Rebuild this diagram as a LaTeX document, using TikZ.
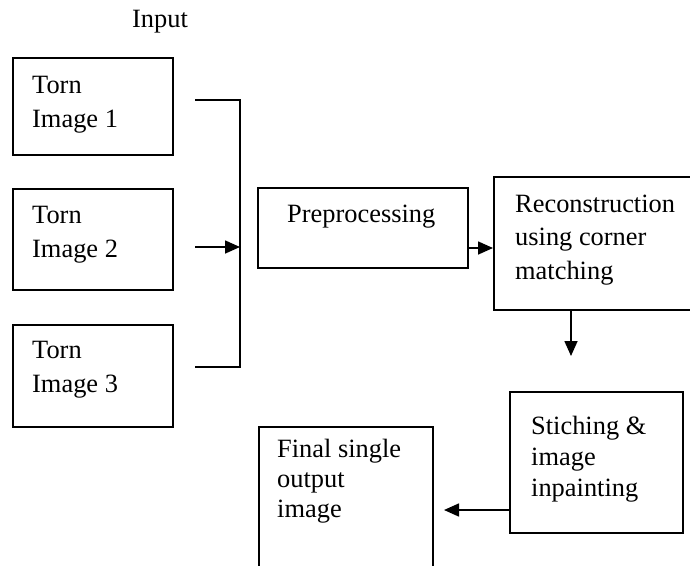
\documentclass[tikz,border=0pt]{standalone}
\usepackage{fontspec}
\setmainfont{Liberation Serif}
\usetikzlibrary{arrows.meta}
\tikzset{
  box/.style={draw=black, line width=1.6pt, rectangle, inner sep=0pt, anchor=north west},
  lbl/.style={anchor=base west, inner sep=0pt, align=left, font=\fontsize{26.4}{34}\selectfont},
  conn/.style={draw=black, line width=1.6pt},
  arr/.style={conn, -{Triangle[length=15pt,width=13pt]}}
}
\begin{document}
\begin{tikzpicture}[x=1pt,y=-1pt]
\useasboundingbox (0,0) rectangle (690,565);
% boxes
\node[box, minimum width=160pt, minimum height=97pt] (b1) at (12,57) {};
\node[box, minimum width=160pt, minimum height=101pt] (b2) at (12,188) {};
\node[box, minimum width=160pt, minimum height=102pt] (b3) at (12,324) {};
\node[box, minimum width=210pt, minimum height=80pt] (prep) at (257,187) {};
\node[box, minimum width=210pt, minimum height=133pt] (recon) at (493,176) {};
\node[box, minimum width=173pt, minimum height=141pt] (stich) at (509,391) {};
\node[box, minimum width=174pt, minimum height=160pt] (final) at (258,426) {};
% texts (anchor = baseline of the last line)
\node[lbl] (tin) at (132,27) {Input};
\node[lbl] (t1) at (32,127) {Torn\\Image 1};
\node[lbl] (t2) at (32,257) {Torn\\Image 2};
\node[lbl] (t3) at (32,392) {Torn\\Image 3};
\node[lbl] (tp) at (287,222) {Preprocessing};
\node[lbl, font=\fontsize{26.4}{33.5}\selectfont] (tr) at (515,279) {Reconstruction\\using corner\\matching};
\node[lbl, font=\fontsize{26.4}{31}\selectfont] (ts) at (531,496) {Stiching \&\\image\\inpainting};
\node[lbl, font=\fontsize{26.4}{30}\selectfont] (tf) at (277,517) {Final single\\output\\image};
% bracket
\coordinate (c1) at (195,100);
\coordinate (c2) at (195,247);
\coordinate (c3) at (195,367);
\coordinate (k1) at (240,100);
\coordinate (k2) at (240,247);
\coordinate (k3) at (240,367);
\draw[conn] (c1) -- (k1) -- (k3) -- (c3);
\draw[arr] (c2) -- (k2);
% flow arrows
\coordinate (p1) at (467,248);
\coordinate (r1) at (493,248);
\draw[arr] (p1) -- (r1);
\coordinate (r2) at (571,309);
\coordinate (s0) at (571,356);
\draw[arr] (r2) -- (s0);
\coordinate (s1) at (509,510);
\coordinate (f1) at (444,510);
\draw[arr] (s1) -- (f1);
\end{tikzpicture}
\end{document}
